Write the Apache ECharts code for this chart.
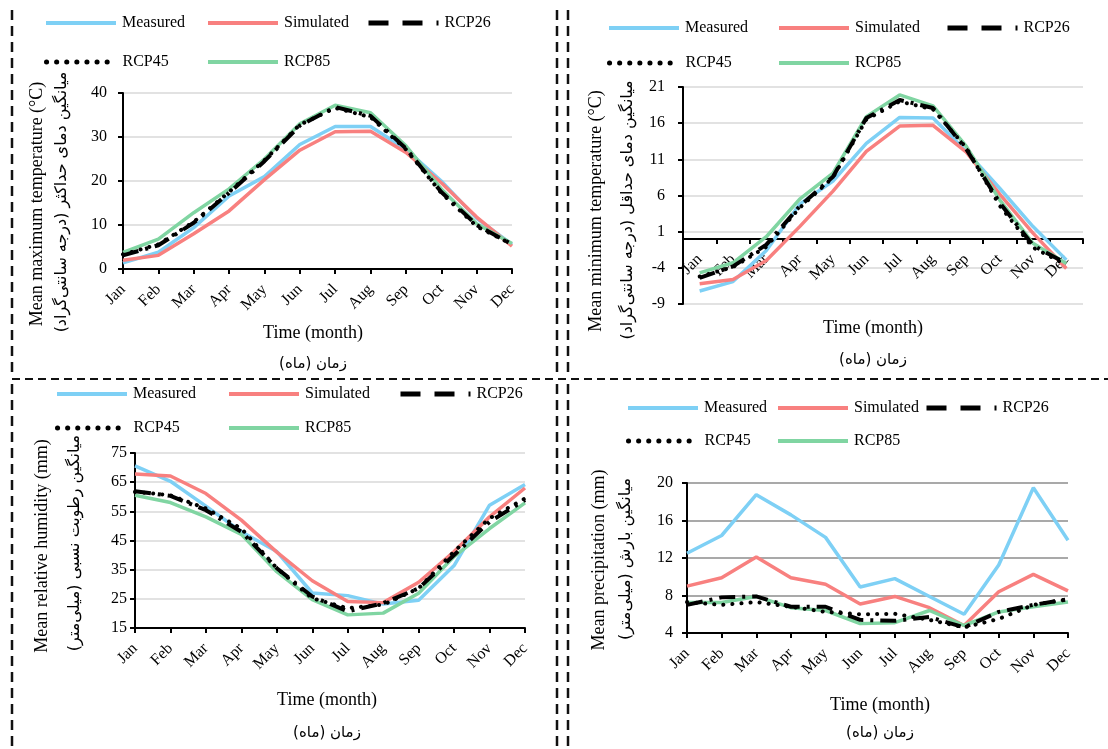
<!DOCTYPE html>
<html>
<head>
<meta charset="utf-8">
<script src="https://cdn.jsdelivr.net/npm/echarts@6/dist/echarts.min.js"></script>
<style>
html,body{margin:0;padding:0;background:#fff;}
#chart{width:1108px;height:749px;}
</style>
</head>
<body>
<div id="chart"></div>
<script>
const months = ['Jan','Feb','Mar','Apr','May','Jun','Jul','Aug','Sep','Oct','Nov','Dec'];
const seriesNames = ['Measured','Simulated','RCP26','RCP45','RCP85'];

// Panel 1: mean maximum temperature (°C)
const tmaxMeasured  = [1.4, 3.8, 9.4, 16.6, 21.0, 28.3, 32.4, 32.4, 27.2, 20.0, 11.5, 5.6];
const tmaxSimulated = [2.0, 3.1, 8.0, 13.2, 20.3, 27.0, 31.2, 31.3, 26.5, 19.6, 11.8, 5.2];
const tmaxRCP26     = [3.1, 5.4, 10.5, 17.3, 24.5, 32.6, 36.8, 34.8, 27.4, 17.5, 10.0, 5.6];
const tmaxRCP45     = [3.3, 5.6, 10.7, 17.5, 24.7, 32.8, 36.6, 34.5, 27.2, 17.3, 9.7, 5.6];
const tmaxRCP85     = [3.8, 6.8, 12.8, 18.2, 25.0, 33.0, 37.2, 35.5, 28.0, 18.2, 10.3, 5.8];

// Panel 2: mean minimum temperature (°C)
const tminMeasured  = [-7.2, -5.9, -1.6, 4.8, 8.0, 13.2, 16.8, 16.7, 12.1, 7.0, 1.7, -2.9];
const tminSimulated = [-6.2, -5.6, -3.0, 1.7, 6.6, 12.1, 15.6, 15.7, 12.0, 6.2, 0.8, -4.1];
const tminRCP26     = [-5.4, -3.8, -0.8, 4.5, 8.6, 16.7, 19.2, 18.1, 12.4, 5.0, -0.9, -3.4];
const tminRCP45     = [-5.2, -3.9, -1.1, 4.3, 8.5, 16.5, 19.0, 17.9, 12.6, 4.6, -1.2, -3.6];
const tminRCP85     = [-4.7, -3.3, 0.3, 5.5, 9.1, 16.9, 19.9, 18.4, 12.8, 5.4, -0.6, -3.4];

// Panel 3: mean relative humidity
const rhMeasured  = [70.6, 65.3, 56.8, 48.0, 41.2, 27.0, 26.1, 23.2, 24.5, 36.4, 57.1, 64.2];
const rhSimulated = [67.8, 67.1, 61.1, 52.0, 41.0, 31.2, 24.1, 23.7, 30.7, 41.2, 53.1, 63.0];
const rhRCP26     = [61.9, 60.3, 55.4, 48.0, 35.5, 25.8, 20.7, 23.5, 28.6, 40.0, 51.4, 58.9];
const rhRCP45     = [61.7, 60.5, 56.0, 49.1, 35.5, 25.2, 21.8, 23.0, 28.6, 41.2, 52.6, 59.4];
const rhRCP85     = [60.5, 58.0, 53.1, 47.1, 34.3, 24.7, 19.5, 20.1, 26.9, 39.5, 49.1, 57.9];

// Panel 4: mean precipitation (mm)
const prMeasured  = [12.5, 14.4, 18.75, 16.6, 14.2, 8.9, 9.8, 7.9, 6.0, 11.25, 19.5, 13.9];
const prSimulated = [9.0, 9.9, 12.1, 9.9, 9.2, 7.1, 7.9, 6.7, 4.8, 8.4, 10.25, 8.5];
const prRCP26     = [7.0, 7.8, 7.9, 6.8, 6.8, 5.4, 5.3, 5.7, 4.6, 6.25, 7.0, 7.6];
const prRCP45     = [7.3, 7.0, 7.3, 6.8, 6.25, 6.0, 6.05, 5.4, 4.6, 5.5, 7.0, 7.6];
const prRCP85     = [7.25, 7.25, 7.9, 6.7, 6.4, 5.0, 5.1, 6.4, 4.8, 6.25, 6.8, 7.3];

const yTicks1 = {min: 0, max: 40, interval: 10};
const yTicks2 = {min: -9, max: 21, interval: 5};
const yTicks3 = {min: 15, max: 75, interval: 10};
const yTicks4 = {min: 4, max: 20, interval: 4};

const xTitleEn = 'Time (month)';
const xTitleFa = '\u200Fزمان (ماه)\u200F';
const yTitlesEn = ['Mean maximum temperature (°C)', 'Mean minimum temperature (°C)', 'Mean relative humidity (mm)', 'Mean precipitation (mm)'];
const yTitlesFa = ['\u200Fمیانگین دمای حداکثر (درجه سانتی\u200Cگراد)\u200F', '\u200Fمیانگین دمای حداقل (درجه سانتی\u200Cگراد)\u200F', '\u200Fمیانگین رطوبت نسبی (میلی\u200Cمتر)\u200F', '\u200Fمیانگین بارش (میلی\u200Cمتر)\u200F'];

const panels = [
  {data: [tmaxMeasured, tmaxSimulated, tmaxRCP26, tmaxRCP45, tmaxRCP85], y: yTicks1},
  {data: [tminMeasured, tminSimulated, tminRCP26, tminRCP45, tminRCP85], y: yTicks2},
  {data: [rhMeasured, rhSimulated, rhRCP26, rhRCP45, rhRCP85], y: yTicks3},
  {data: [prMeasured, prSimulated, prRCP26, prRCP45, prRCP85], y: yTicks4}
];

const SERIF = '"Liberation Serif", "DejaVu Serif", "DejaVu Sans", serif';
const FA = '"DejaVu Sans", sans-serif';

const styleOf = {
  Measured:  {color: '#7ED0F5', lineStyle: {width: 3.5, type: 'solid', cap: 'butt'}},
  Simulated: {color: '#F8807F', lineStyle: {width: 3.5, type: 'solid', cap: 'butt'}},
  RCP26:     {color: '#000000', lineStyle: {width: 4, type: [16, 7, 3, 7], cap: 'butt'}},
  RCP45:     {color: '#000000', lineStyle: {width: 4, type: [0.1, 9], cap: 'round'}},
  RCP85:     {color: '#80D5A2', lineStyle: {width: 3.5, type: 'solid', cap: 'butt'}}
};
const legendLine = {
  Measured:  {width: 4, type: 'solid', cap: 'butt'},
  Simulated: {width: 4, type: 'solid', cap: 'butt'},
  RCP26:     {width: 5, type: [20, 14, 20, 14, 3, 14], cap: 'butt'},
  RCP45:     {width: 5, type: [0.1, 10], cap: 'round'},
  RCP85:     {width: 4, type: 'solid', cap: 'butt'}
};
const zOf = {Measured: 2, Simulated: 3, RCP85: 4, RCP26: 5, RCP45: 6};

const layout = [
  {grid: {left: 123, top: 93, width: 389, height: 176}, gap: false, labelMargin: 16, gridColor: '#D9D9D9',
   legend: [[44, 23], [206, 23], [366, 23], [44, 62], [206, 62]],
   xt: [313, 333, 364], yt: [37, 204, 62, 202]},
  {grid: {left: 683, top: 87, width: 400, height: 217}, gap: true, labelMargin: 18, gridColor: '#D9D9D9',
   legend: [[607, 28], [777, 28], [945, 28], [607, 63], [777, 63]],
   xt: [873, 328, 360], yt: [596, 211, 628, 210]},
  {grid: {left: 135, top: 453, width: 390, height: 175}, gap: false, labelMargin: 8, gridColor: '#D9D9D9',
   legend: [[55, 394], [227, 394], [398, 394], [55, 428], [227, 428]],
   xt: [327, 700, 733], yt: [42, 546, 75, 543]},
  {grid: {left: 687, top: 483, width: 381, height: 150}, gap: false, labelMargin: 14, gridColor: '#8C8C8C',
   legend: [[626, 408], [776, 408], [924, 408], [626, 441], [776, 441]],
   xt: [880, 705, 733], yt: [599, 560, 626, 559]}
];

const grids = [], xAxes = [], yAxes = [], series = [], legends = [], graphics = [];

panels.forEach((p, i) => {
  const L = layout[i];
  grids.push(Object.assign({containLabel: false}, L.grid));
  // category axis sits at value 0 when 0 lies inside the range
  const zeroFrac = (p.y.min < 0 && p.y.max > 0) ? (0 - p.y.min) / (p.y.max - p.y.min) : 0;
  xAxes.push({
    type: 'category', gridIndex: i, data: months, boundaryGap: L.gap,
    position: 'bottom', offset: -L.grid.height * zeroFrac,
    axisLine: {onZero: false, lineStyle: {color: '#000', width: 2}},
    axisTick: {show: true, alignWithLabel: false, length: 5, lineStyle: {color: '#000', width: 2}},
    axisLabel: {rotate: 45, interval: 0, margin: 18, color: '#000', fontSize: 16, fontFamily: SERIF},
    splitLine: {show: false}
  });
  yAxes.push({
    type: 'value', gridIndex: i, min: p.y.min, max: p.y.max, interval: p.y.interval,
    axisLine: {show: true, onZero: false, lineStyle: {color: '#000', width: 2}},
    axisTick: {show: true, length: 5, lineStyle: {color: '#000', width: 2}},
    axisLabel: {margin: L.labelMargin, color: '#000', fontSize: 16, fontFamily: SERIF},
    splitLine: {show: true, lineStyle: {color: L.gridColor, width: 1.5}}
  });
  seriesNames.forEach((name, k) => {
    const st = styleOf[name];
    series.push({
      name: name, type: 'line', xAxisIndex: i, yAxisIndex: i,
      data: p.data[k], symbol: 'none', smooth: false, z: zOf[name],
      itemStyle: {color: st.color},
      lineStyle: Object.assign({color: st.color}, st.lineStyle),
      emphasis: {disabled: true}
    });
    legends.push({
      data: [name], left: L.legend[k][0], top: L.legend[k][1] - 8,
      padding: 0, itemWidth: 70, itemHeight: 16, itemGap: 0, selectedMode: false,
      itemStyle: {color: 'rgba(0,0,0,0)', borderWidth: 0, opacity: 0},
      lineStyle: Object.assign({color: st.color, opacity: 1}, legendLine[name]),
      textStyle: {color: '#000', fontSize: 16, fontFamily: SERIF, lineHeight: 16, padding: [0, 0, 0, 1]}
    });
  });
  graphics.push({type: 'text', x: L.xt[0], y: L.xt[1], silent: true,
    style: {text: xTitleEn, fill: '#000', fontSize: 18, fontFamily: SERIF, align: 'center', verticalAlign: 'middle'}});
  graphics.push({type: 'text', x: L.xt[0], y: L.xt[2], silent: true,
    style: {text: xTitleFa, fill: '#000', fontSize: 15, fontFamily: FA, align: 'center', verticalAlign: 'middle'}});
  graphics.push({type: 'text', x: L.yt[0], y: L.yt[1], rotation: Math.PI / 2, silent: true,
    style: {text: yTitlesEn[i], fill: '#000', fontSize: 18, fontFamily: SERIF, align: 'center', verticalAlign: 'middle'}});
  graphics.push({type: 'text', x: L.yt[2], y: L.yt[3], rotation: Math.PI / 2, silent: true,
    style: {text: yTitlesFa[i], fill: '#000', fontSize: 16, fontFamily: FA, align: 'center', verticalAlign: 'middle'}});
});

// dashed panel borders
const vDash = {stroke: '#111', lineWidth: 2.5, lineDash: [10, 6]};
const hDash = {stroke: '#111', lineWidth: 2, lineDash: [8, 5]};
[[12, 10, 378], [12, 384, 749], [557, 10, 378], [557, 384, 749], [568, 10, 378], [568, 384, 749]].forEach(s => {
  graphics.push({type: 'line', silent: true, shape: {x1: s[0], y1: s[1], x2: s[0], y2: s[2]}, style: vDash});
});
graphics.push({type: 'line', silent: true, shape: {x1: 12, y1: 379, x2: 1108, y2: 379}, style: hDash});

const chart = echarts.init(document.getElementById('chart'), null, {renderer: 'canvas'});
chart.setOption({
  animation: false,
  backgroundColor: '#fff',
  textStyle: {fontFamily: SERIF},
  grid: grids, xAxis: xAxes, yAxis: yAxes, series: series, legend: legends, graphic: graphics
});
</script>
</body>
</html>
